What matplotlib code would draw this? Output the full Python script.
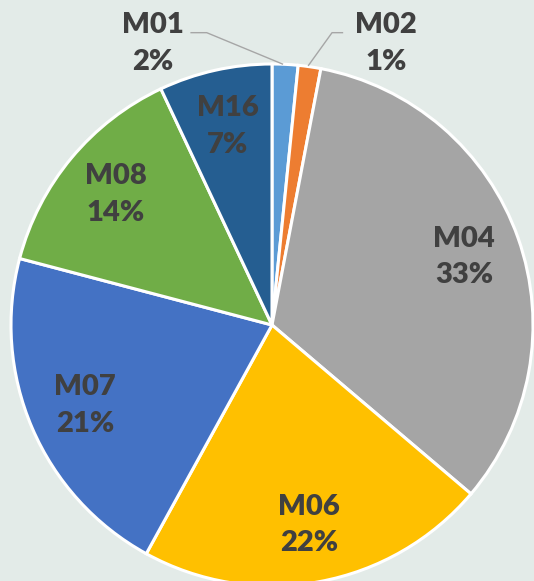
import matplotlib.pyplot as plt

### chart data ###
names = ['M01', 'M02', 'M04', 'M06', 'M07', 'M08', 'M16']
shares = [1.6, 1.4, 33.2, 21.8, 21.1, 13.9, 7.0]
colors = ['#5B9BD5', '#ED7D31', '#A5A5A5', '#FFC000', '#4472C4', '#70AD47', '#255E91']
bg = '#E3EBE8'
txt_col = '#404040'

labels = ['%s\n%d%%' % (n, round(s)) for n, s in zip(names, shares)]

fig = plt.figure(figsize=(5.34, 5.81), dpi=100, facecolor=bg)
ax = fig.add_axes([0, 0, 1, 1])
ax.set_facecolor(bg)

wedges, texts = ax.pie(shares, colors=colors, startangle=90, counterclock=False,
                       labels=labels, labeldistance=0.78,
                       wedgeprops=dict(edgecolor='white', linewidth=2.2),
                       textprops=dict(fontsize=21, fontweight='heavy', color=txt_col,
                                      family='Lato', linespacing=1.5))
for t in texts:
    t.set_ha('center')
    t.set_va('center')

###small slices get outside labels with leader lines###
outside = {0: ((-0.456, 1.078), [(-0.31, 1.12), (-0.25, 1.12), (0.04, 1.00)]),
           1: ((0.437, 1.078), [(0.27, 1.12), (0.23, 1.12), (0.14, 0.995)])}
for i, (pos, line) in outside.items():
    texts[i].set_position(pos)
    xs, ys = zip(*line)
    ax.plot(xs, ys, color='#A6A6A6', lw=1.0)

ax.set_xlim(-272 / 261, 262 / 261)
ax.set_ylim(-256 / 261, 325 / 261)
ax.set_aspect('equal')
ax.axis('off')

fig.savefig('out.png', dpi=100, facecolor=bg)
